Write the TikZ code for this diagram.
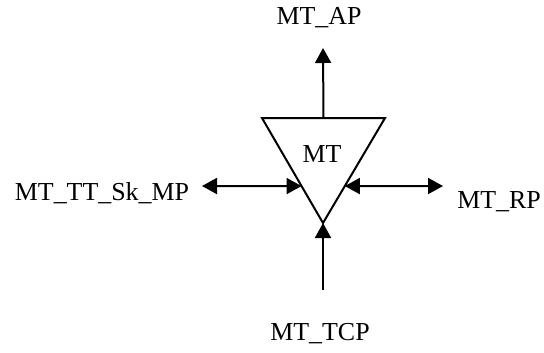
\documentclass[tikz,border=0pt]{standalone}
\usepackage{fontspec}
\setmainfont{Liberation Serif}
\usetikzlibrary{arrows.meta,calc}

\begin{document}
\begin{tikzpicture}[
  x=0.5bp,
  y=-0.5bp,
  portlabel/.style={font=\fontsize{13}{15}\selectfont, anchor=base},
  block/.style={line width=1bp, line join=miter},
  link/.style={line width=1bp, -{Triangle[length=7.5bp,width=8bp]}},
  biLink/.style={line width=1bp, {Triangle[length=7.5bp,width=8bp]}-{Triangle[length=7.5bp,width=8bp]}}
]
\useasboundingbox (0,0) rectangle (544,352);

% the MT block
\coordinate (topLeft) at (262,118);
\coordinate (topRight) at (385,118);
\coordinate (tip) at (323,223);
\draw[block] (topLeft) -- (topRight) -- (tip) -- cycle;
\node[portlabel] (mt) at (322,162) {MT};

% ports
\node[portlabel] (ap) at (319,24) {MT\_AP};
\node[portlabel] (tcp) at (320,340) {MT\_TCP};
\node[portlabel] (sk) at (102,200) {MT\_TT\_Sk\_MP};
\node[portlabel] (rp) at (499,208) {MT\_RP};

\coordinate (topMid) at ($(topLeft)!0.5!(topRight)$);
\coordinate (apEnd) at (323,48);
\coordinate (tcpEnd) at (323,290);
\coordinate (leftSide) at ($(topLeft)!0.648!(tip)$);
\coordinate (rightSide) at ($(topRight)!0.648!(tip)$);
\coordinate (skEnd) at (202,186);
\coordinate (rpEnd) at (443,186);

\draw[link] (topMid) -- (apEnd);
\draw[link] (tcpEnd) -- (tip);
\draw[biLink] (skEnd) -- (leftSide);
\draw[biLink] (rightSide) -- (rpEnd);
\end{tikzpicture}
\end{document}
